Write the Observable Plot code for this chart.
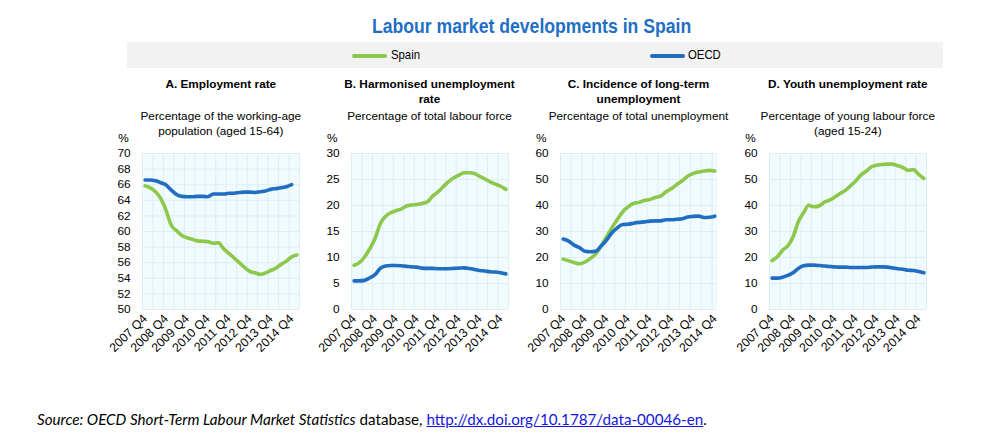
<!DOCTYPE html>
<html>
<head>
<meta charset="utf-8">
<script src="https://cdn.jsdelivr.net/npm/d3@7"></script>
<script src="https://cdn.jsdelivr.net/npm/@observablehq/plot@0.6"></script>
<style>
  html, body { margin: 0; padding: 0; background: #fff; }
  #root { position: relative; width: 1003px; height: 442px; overflow: hidden; font-family: "Liberation Sans", Arial, sans-serif; color: #000; }
  .abs { position: absolute; white-space: nowrap; }
  .title { font-weight: bold; font-size: 20.5px; color: #1f6fc5; line-height: 24px; }
  .ptitle { font-weight: bold; font-size: 11.8px; line-height: 15px; text-align: center; }
  .psub { font-size: 11.8px; line-height: 15px; text-align: center; }
  .pct { font-size: 11.8px; line-height: 15px; }
  .leg { font-size: 13.5px; line-height: 16px; transform-origin: left center; transform: scaleX(0.84); }
  .src { font-family: Lato, "Open Sans", sans-serif; font-size: 15.2px; line-height: 18px; }
  .src a { color: #1515e0; text-decoration: underline; }
</style>
</head>
<body>
<div id="root"></div>
<script>
// ---------- data ----------
const quarters = ["2007 Q4","2008 Q1","2008 Q2","2008 Q3","2008 Q4","2009 Q1","2009 Q2","2009 Q3","2009 Q4",
  "2010 Q1","2010 Q2","2010 Q3","2010 Q4","2011 Q1","2011 Q2","2011 Q3","2011 Q4","2012 Q1","2012 Q2","2012 Q3",
  "2012 Q4","2013 Q1","2013 Q2","2013 Q3","2013 Q4","2014 Q1","2014 Q2","2014 Q3","2014 Q4","2015 Q1"];
const seriesNames = ["Spain", "OECD"];

const empSpain = [65.85, 65.6, 65.1, 64.2, 62.7, 60.8, 60.1, 59.5, 59.2, 59.0, 58.8, 58.75, 58.7, 58.5, 58.55,
  57.8, 57.2, 56.6, 56.0, 55.4, 54.9, 54.7, 54.5, 54.7, 55.0, 55.3, 55.8, 56.2, 56.75, 57.0];
const empOECD = [66.6, 66.6, 66.5, 66.25, 65.95, 65.3, 64.75, 64.5, 64.45, 64.45, 64.5, 64.5, 64.45, 64.8, 64.8,
  64.8, 64.9, 64.9, 65.0, 65.05, 65.05, 65.0, 65.1, 65.2, 65.4, 65.5, 65.6, 65.75, 66.0];

const unempSpain = [8.5, 9.0, 10.1, 11.7, 13.65, 16.5, 17.9, 18.6, 19.0, 19.3, 19.9, 20.1, 20.2, 20.4, 20.7,
  21.8, 22.6, 23.6, 24.55, 25.3, 25.8, 26.3, 26.3, 26.15, 25.6, 25.1, 24.55, 24.1, 23.7, 23.1];
const unempOECD = [5.5, 5.5, 5.6, 6.1, 6.7, 7.9, 8.35, 8.45, 8.45, 8.4, 8.3, 8.2, 8.15, 7.95, 7.9,
  7.9, 7.85, 7.85, 7.85, 7.9, 7.95, 8.0, 7.9, 7.7, 7.5, 7.4, 7.25, 7.2, 7.05, 6.85];

const ltuSpain = [19.4, 18.7, 18.1, 17.6, 18.2, 19.6, 21.3, 24.4, 27.9, 31.5, 34.6, 37.6, 39.5, 40.8, 41.2,
  41.9, 42.3, 43.1, 43.6, 45.3, 46.5, 48.1, 49.5, 51.3, 52.3, 52.9, 53.3, 53.5, 53.3];
const ltuOECD = [27.1, 26.3, 24.75, 23.8, 22.4, 22.2, 22.4, 24.4, 26.7, 29.5, 31.4, 32.7, 32.8, 33.2, 33.5,
  33.7, 34.0, 34.1, 34.1, 34.5, 34.5, 34.7, 34.9, 35.6, 35.8, 35.9, 35.4, 35.5, 35.9];

const youthSpain = [18.8, 20.3, 22.8, 24.5, 27.9, 33.7, 37.2, 40.1, 39.5, 39.9, 41.3, 42.1, 43.3, 44.6, 45.8,
  47.6, 49.5, 51.8, 53.2, 54.9, 55.5, 55.8, 55.9, 55.9, 55.3, 54.6, 53.5, 53.8, 52.0, 50.4];
const youthOECD = [12.05, 12.05, 12.4, 13.1, 14.1, 15.8, 16.8, 17.05, 17.05, 16.9, 16.7, 16.55, 16.4, 16.3, 16.3,
  16.15, 16.15, 16.15, 16.15, 16.3, 16.4, 16.4, 16.3, 16.0, 15.65, 15.5, 15.1, 15.0, 14.6, 14.1];

const yTicksA = [50, 52, 54, 56, 58, 60, 62, 64, 66, 68, 70];
const yTicksB = [0, 5, 10, 15, 20, 25, 30];
const yTicksC = [0, 10, 20, 30, 40, 50, 60];
const yTicksD = [0, 10, 20, 30, 40, 50, 60];

const mainTitle = "Labour market developments in Spain";
const panelTitles = [["A. Employment rate"], ["B. Harmonised unemployment", "rate"],
  ["C. Incidence of long-term", "unemployment"], ["D. Youth unemployment rate"]];
const panelSubs = [["Percentage of the working-age", "population (aged 15-64)"], ["Percentage of total labour force"],
  ["Percentage of total unemployment"], ["Percentage of young labour force", "(aged 15-24)"]];

// ---------- styling ----------
const GREEN = "#8cc84b";
const BLUE = "#1f6ec2";
const BG = "#f1fbfd";
const GRID = "#ddeef2";

const panels = [
  {left: 142.3, n: 30, spain: empSpain, oecd: empOECD, yTicks: yTicksA},
  {left: 351.0, n: 30, spain: unempSpain, oecd: unempOECD, yTicks: yTicksB},
  {left: 560.0, n: 29, spain: ltuSpain, oecd: ltuOECD, yTicks: yTicksC},
  {left: 769.3, n: 30, spain: youthSpain, oecd: youthOECD, yTicks: yTicksD}
];

const root = document.getElementById("root");
function addDiv(cls, html, css) {
  const d = document.createElement("div");
  d.className = "abs " + cls;
  d.innerHTML = html;
  Object.assign(d.style, css);
  root.appendChild(d);
  return d;
}

// main title
addDiv("title", mainTitle, {left: "0px", width: "1063px", top: "14px", textAlign: "center", transform: "scaleX(0.86)", transformOrigin: "532px 0"});

// legend band
addDiv("", "", {left: "127px", top: "42px", width: "816px", height: "26px", background: "#f2f2f2"});
addDiv("", "", {left: "352px", top: "54px", width: "35px", height: "3.5px", background: GREEN, borderRadius: "2px"});
addDiv("leg", seriesNames[0], {left: "390.5px", top: "47px"});
addDiv("", "", {left: "650px", top: "54px", width: "35px", height: "3.5px", background: BLUE, borderRadius: "2px"});
addDiv("leg", seriesNames[1], {left: "687.5px", top: "47px"});

const PW = 157, PH = 156, ML = 40, MR = 8, MT = 4, MB = 64, TOP = 153.3;

panels.forEach((p, k) => {
  const cx = p.left + PW / 2;
  addDiv("ptitle", panelTitles[k].join("<br>"), {left: (cx - 110) + "px", width: "220px", top: "77.3px"});
  addDiv("psub", panelSubs[k].join("<br>"), {left: (cx - 110) + "px", width: "220px", top: "109.3px"});
  addDiv("pct", "%", {left: (p.left - 24) + "px", top: "130.5px"});

  const spain = p.spain.map((v, i) => ({x: i + 0.5, y: v}));
  const oecd = p.oecd.map((v, i) => ({x: i + 0.5, y: v}));
  const xt = d3.range(0, 29, 4).map(i => i + 0.5);

  const chart = Plot.plot({
    width: ML + PW + MR, height: MT + PH + MB,
    marginLeft: ML, marginRight: MR, marginTop: MT, marginBottom: MB,
    x: {type: "linear", domain: [0, p.n]},
    y: {domain: [p.yTicks[0], p.yTicks[p.yTicks.length - 1]]},
    style: {fontFamily: '"Liberation Sans", Arial, sans-serif', fontSize: "11.8px", color: "#000", background: "transparent", overflow: "visible"},
    marks: [
      Plot.frame({fill: BG, stroke: "none"}),
      Plot.gridX(d3.range(0, p.n + 1, 2), {stroke: GRID, strokeOpacity: 1, strokeWidth: 1}),
      Plot.gridY(p.yTicks, {stroke: GRID, strokeOpacity: 1, strokeWidth: 1}),
      Plot.axisY(p.yTicks, {tickSize: 0, tickPadding: 12, fontSize: "11.8px", label: null}),
      Plot.axisX(xt, {tickSize: 0, tickPadding: 7, tickRotate: -45, fontSize: "12.3px", label: null,
        tickFormat: d => quarters[Math.round(d - 0.5)]}),
      Plot.line(spain, {x: "x", y: "y", stroke: GREEN, strokeWidth: 3.6, curve: "monotone-x"}),
      Plot.line(oecd, {x: "x", y: "y", stroke: BLUE, strokeWidth: 3.6, curve: "monotone-x"})
    ]
  });
  chart.style.position = "absolute";
  chart.style.left = (p.left - ML) + "px";
  chart.style.top = (TOP - MT) + "px";
  root.appendChild(chart);
});

// source
addDiv("src", '<i>Source: OECD Short-Term Labour Market Statistics</i> database, <a>http://dx.doi.org/10.1787/data-00046-en</a>.',
  {left: "37px", top: "410px"});
</script>
</body>
</html>
